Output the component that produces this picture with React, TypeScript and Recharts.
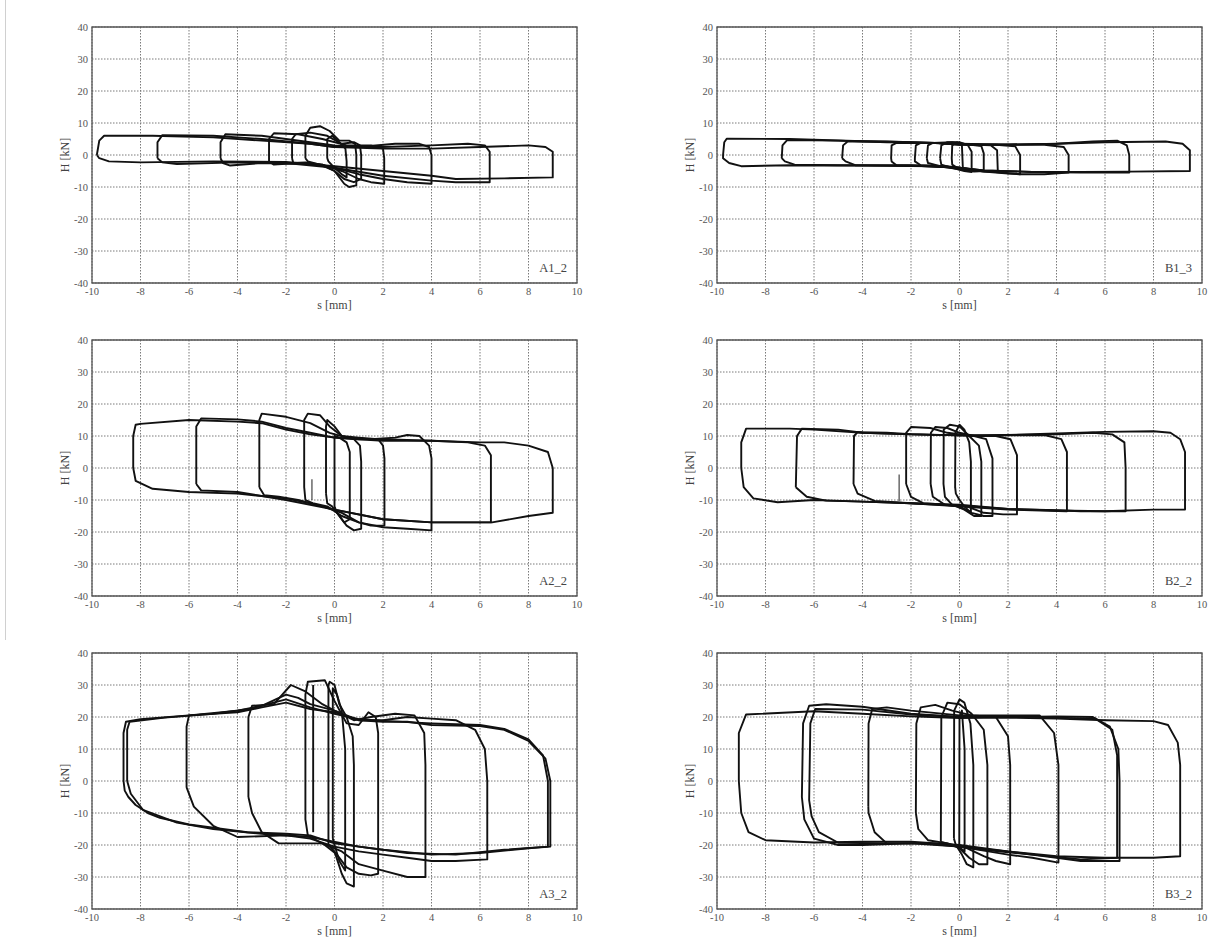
import { LineChart, Line, XAxis, YAxis, CartesianGrid, ReferenceArea } from "recharts";

type Pt = [number, number];

const S_TICKS = [-10, -8, -6, -4, -2, 0, 2, 4, 6, 8, 10];
const H_TICKS = [-40, -30, -20, -10, 0, 10, 20, 30, 40];

// A1_2 cycles, one loop per amplitude (s [mm], H [kN])
const a12Loops: Pt[][] = [
  [[-9.8, 0], [-9.7, 4.5], [-9.5, 6], [-7.5, 6], [-5, 5.5], [-3, 4.5], [-1, 3.5], [0, 2.5], [2, 2], [4, 2], [6, 2.5], [8, 3], [8.7, 2.5], [9, 1], [9, -7], [7, -7.3], [5, -7.5], [4, -6.5], [2, -5], [0, -3.5], [-2, -2.2], [-5, -2], [-8, -2.3], [-9.3, -2], [-9.7, -1]],
  [[-7.3, -1], [-7.3, 4], [-7.1, 6.2], [-5, 6], [-3, 5], [-1, 3.5], [0, 2.5], [2, 2.5], [4, 3], [5.5, 3.5], [6.2, 3], [6.4, 1], [6.4, -8.5], [5, -8.5], [4, -8], [2, -6.5], [0, -4], [-2, -2.5], [-4, -2.3], [-6.5, -2.8], [-7.1, -2.3]],
  [[-4.7, -1], [-4.7, 4], [-4.5, 6.5], [-3, 6], [-2, 5], [-1, 4], [0, 3], [1, 2.5], [2.5, 3.5], [3.5, 3.5], [3.9, 2.5], [4, 0], [4, -9], [3, -8.5], [2, -7.5], [1, -6], [0, -4], [-1, -2.8], [-3, -2.5], [-4.3, -3.3], [-4.6, -2.5]],
  [[-2.7, -1], [-2.7, 5], [-2.5, 6.8], [-1.5, 6.5], [-0.5, 5], [0.5, 3], [1.5, 3], [2, 2], [2.05, -1], [2.05, -9], [1.5, -8.5], [1, -7.5], [0.3, -5], [-0.5, -3], [-1.5, -2.5], [-2.5, -3], [-2.7, -2]],
  [[-1.75, -1], [-1.75, 5], [-1.6, 6.5], [-1, 7], [-0.3, 6], [0.3, 3.5], [0.8, 4], [1.05, 3], [1.1, 0], [1.1, -7.5], [0.8, -8.5], [0.4, -7.5], [0, -5], [-0.5, -3], [-1.2, -2.3], [-1.7, -2.5]],
  [[-1.2, -1], [-1.2, 6], [-1, 8.5], [-0.6, 9], [-0.2, 7.5], [0.2, 4.5], [0.6, 4.5], [0.85, 3.5], [0.9, 0], [0.9, -9.5], [0.6, -10], [0.4, -9], [0, -5], [-0.6, -3], [-1.1, -2]],
  [[-0.3, -1], [-0.3, 5], [-0.1, 6], [0.2, 4], [0.45, 2], [0.5, -2], [0.5, -7], [0.3, -6], [0, -4], [-0.25, -2]],
];

const a22Loops: Pt[][] = [
  [[-8.3, 0], [-8.3, 10], [-8.2, 13.5], [-8, 13.8], [-6, 15], [-4, 14.5], [-3, 14], [-2, 12], [-1, 10.5], [0, 9.5], [1, 9], [2, 8.5], [4, 8.5], [6, 8], [7, 8], [8, 7], [8.8, 5], [9, 0], [9, -14], [8, -15], [6.5, -17], [4, -17], [2, -16], [0, -13], [-1, -11], [-2, -9.5], [-4, -8], [-6, -7.5], [-7.5, -6.5], [-8.2, -4]],
  [[-5.7, -5], [-5.7, 13], [-5.5, 15.5], [-4, 15.2], [-3, 14.5], [-2, 12.5], [-1, 11], [0, 9.5], [1, 9], [2, 9], [4, 8.5], [5.5, 8], [6.2, 7], [6.45, 4], [6.45, -17], [5, -17], [4, -17], [2, -16], [0, -13], [-2, -10], [-4, -7.5], [-5.5, -7]],
  [[-3.1, -6], [-3.1, 15], [-3, 17], [-2, 16], [-1, 14], [-0.2, 11], [0.5, 9.5], [1.5, 9], [2.5, 9.5], [3, 10.3], [3.5, 10], [3.9, 7], [4, 3], [4, -19.5], [3, -19], [2, -18.5], [1, -17], [0.3, -14], [-0.5, -12], [-1.5, -10], [-2.3, -9], [-2.9, -8.5]],
  [[-1.25, -6], [-1.25, 15], [-1.1, 17], [-0.6, 16.5], [-0.2, 13], [0.3, 10], [1, 9.5], [1.8, 9], [2, 7], [2.06, 3], [2.06, -18], [1.5, -18], [1, -17], [0.3, -15], [-0.3, -12], [-0.9, -11], [-1.2, -10]],
  [[-0.35, -8], [-0.35, 13], [-0.3, 15], [0, 13], [0.3, 10], [0.8, 9], [1.05, 7], [1.1, 2], [1.1, -19], [0.8, -19.5], [0.5, -18], [0.2, -15], [-0.1, -12], [-0.3, -11]],
  [[0, -12], [0, 10], [0.2, 9.5], [0.5, 8], [0.63, 5], [0.63, -16], [0.4, -17], [0.1, -14]],
];
const a22Spike: Pt[] = [[-0.93, -3.5], [-0.93, -10]];

const a32Loops: Pt[][] = [
  [[-8.7, 0], [-8.7, 15], [-8.6, 18.5], [-8, 19.3], [-6, 20.5], [-4, 21.5], [-3, 23], [-2, 24.5], [-1, 22.5], [0, 21.5], [1, 19], [2, 18.5], [3, 18.5], [4, 17.5], [6, 17.2], [7, 16], [8, 12.5], [8.7, 7], [8.9, 0], [8.9, -20.5], [8, -21], [6, -22.5], [4, -23], [2, -21.5], [0, -19.5], [-1, -17], [-2, -16.5], [-3.6, -16], [-6, -13.6], [-7.2, -11.5], [-7.7, -10], [-8.2, -7.5], [-8.5, -5], [-8.65, -3]],
  [[-8.55, 0], [-8.55, 16], [-8.45, 18.5], [-7, 19.8], [-5, 21], [-3.5, 22.5], [-2, 25.5], [-1, 23], [0, 21], [1, 19.3], [2, 18.8], [4, 18], [6, 17.5], [7, 16.3], [8, 13], [8.6, 8], [8.8, 0], [8.8, -20.5], [7, -21.5], [5, -23], [3, -22.5], [1, -20.5], [-1, -17.5], [-3, -16.5], [-5, -15], [-6.5, -13], [-7.9, -9], [-8.4, -4]],
  [[-6.1, -2], [-6.1, 17], [-6, 20.5], [-4, 22], [-3, 23.5], [-2, 27], [-1.5, 26], [-1, 24], [0, 22], [1, 19], [2, 19], [3, 20], [4, 19.5], [5, 19], [5.8, 16], [6.2, 10], [6.3, 0], [6.3, -24.5], [5, -25], [4, -25], [3, -24], [2, -23], [1, -22], [0, -20.5], [-1, -18], [-2, -17], [-4, -17.5], [-5, -14], [-5.8, -8]],
  [[-3.55, -5], [-3.55, 20], [-3.4, 23.5], [-2.5, 24], [-1.8, 30], [-1.2, 28], [-0.5, 24], [0, 22], [0.8, 19], [1.5, 20], [2.5, 21], [3.3, 20.5], [3.7, 15], [3.75, 5], [3.75, -30], [3, -30], [2, -28], [1, -26], [0.3, -22], [-0.5, -19.5], [-1.5, -19.5], [-2.3, -19.5], [-3, -16], [-3.4, -10]],
  [[-1.2, -12], [-1.2, 27], [-1.1, 31], [-0.4, 31.5], [0, 25], [0.5, 18], [1, 17.5], [1.4, 21.5], [1.7, 20], [1.8, 15], [1.8, -29], [1.5, -29.5], [1, -29], [0.5, -27], [0.1, -23], [-0.4, -20], [-1.1, -17]],
  [[-0.88, -16], [-0.88, 30]],
  [[-0.25, -20], [-0.25, 30], [-0.2, 31], [0, 30], [0.2, 24], [0.5, 20], [0.75, 14], [0.8, 5], [0.8, -33], [0.5, -32], [0.3, -29], [0, -22]],
  [[-0.07, -18], [-0.07, 29], [0.1, 27], [0.3, 22], [0.44, 10], [0.44, -28], [0.2, -25], [0, -20]],
];

const b13Loops: Pt[][] = [
  [[-9.75, 0], [-9.7, 4], [-9.6, 5.1], [-7, 5], [-4, 4.3], [-2, 4], [0, 3.5], [2, 3.2], [4, 3.5], [6, 4], [8.5, 4.2], [9.2, 3.5], [9.5, 1.5], [9.5, -5], [7, -5.2], [5, -5.3], [3, -5.3], [1, -4.8], [0, -4], [-1, -3.5], [-4, -3.3], [-7, -3.2], [-9, -3.5], [-9.5, -2.5], [-9.75, -1]],
  [[-7.33, -1], [-7.3, 3], [-7.1, 4.7], [-5, 4.5], [-3, 4], [-1, 3.8], [0, 3.2], [2, 3.3], [4, 3.5], [5.5, 4.2], [6.5, 4.5], [6.9, 3], [7, 0], [7, -5.5], [5, -5.5], [3, -5.3], [1, -4.8], [0, -4], [-2, -3.3], [-5, -3.2], [-6.8, -3], [-7.2, -2]],
  [[-4.84, -1], [-4.8, 3], [-4.6, 4.3], [-3, 4.2], [-1, 3.8], [0, 3.3], [2, 3.2], [3.5, 3.2], [4.3, 2.5], [4.5, 0], [4.5, -5.5], [3.5, -6], [2.5, -6], [1, -5], [0, -4], [-2, -3.3], [-4.3, -3.2], [-4.7, -2]],
  [[-2.82, -1], [-2.8, 3], [-2.6, 3.8], [-1, 3.7], [0, 3.3], [1.5, 3.2], [2.3, 2.7], [2.5, 0], [2.5, -6], [2, -5.8], [1, -5.2], [0, -4], [-1.5, -3.3], [-2.6, -3.2], [-2.8, -2]],
  [[-1.84, -1], [-1.8, 3], [-1.6, 3.8], [-0.5, 3.8], [0.5, 3.3], [1.3, 3], [1.55, 1.5], [1.58, -5.2], [1, -5.2], [0.3, -4.5], [-0.5, -3.5], [-1.6, -3.2], [-1.84, -2]],
  [[-1.35, -1], [-1.3, 3], [-1.1, 3.8], [-0.3, 4], [0.4, 3.3], [0.9, 2.8], [1, 0.5], [1, -5], [0.6, -5.2], [0, -4.5], [-0.8, -3.5], [-1.3, -2.5]],
  [[-0.8, -1], [-0.75, 3], [-0.5, 4], [0, 4], [0.35, 3], [0.5, 1], [0.5, -5.3], [0.2, -5], [-0.3, -4], [-0.75, -3]],
  [[-0.32, -1], [-0.3, 3], [-0.1, 4], [0.1, 3], [0.14, -4.5], [-0.1, -4], [-0.3, -3]],
];

const b22Loops: Pt[][] = [
  [[-9, 0], [-9, 8], [-8.8, 12.3], [-7, 12.3], [-6, 12], [-4, 11], [-2, 10.5], [0, 10.2], [1, 10], [2, 10.3], [4, 10.8], [6, 11.3], [8, 11.5], [8.7, 11], [9.1, 9], [9.3, 5], [9.3, -13], [8, -13], [6, -13.5], [4, -13.3], [2, -12.8], [0, -11.5], [-2, -11], [-4, -10.5], [-6, -10], [-7.5, -10.7], [-8.5, -9.5], [-8.9, -6]],
  [[-6.75, -6], [-6.7, 10], [-6.5, 12.3], [-5, 12], [-4, 11], [-2, 10.5], [0, 10.2], [2, 10.3], [4, 10.5], [5.5, 11], [6.3, 10.5], [6.8, 8], [6.85, 0], [6.85, -13.5], [5, -13.5], [4, -13.2], [2, -12.8], [0, -11.8], [-2, -11], [-4, -10.5], [-5.5, -10.2], [-6.3, -9]],
  [[-4.37, -5], [-4.35, 10], [-4.2, 11.2], [-3, 11], [-2, 10.6], [0, 10.2], [2, 10.2], [3.5, 10.3], [4.2, 9], [4.43, 5], [4.43, -13.5], [3, -13.2], [2, -13], [0, -12], [-2, -11], [-3.5, -10.3], [-4.2, -8]],
  [[-2.2, -5], [-2.2, 11], [-2, 12.8], [-1.2, 12.5], [-0.5, 11], [0.5, 10], [1.5, 10], [2.1, 9], [2.37, 4], [2.37, -14.5], [1.8, -14.5], [1, -14], [0.3, -12], [-0.5, -11.5], [-1.5, -11], [-2, -9]],
  [[-1.19, -5], [-1.18, 11], [-1, 12.8], [-0.5, 12.5], [0, 11], [0.6, 10], [1.1, 9], [1.36, 3], [1.36, -15], [1, -15], [0.5, -14], [0, -12], [-0.6, -11.5], [-1.1, -9]],
  [[-0.66, -5], [-0.65, 12], [-0.4, 13.5], [0, 13], [0.4, 10], [0.8, 7], [0.9, 2], [0.9, -15], [0.6, -15], [0.2, -13], [-0.3, -11.5], [-0.6, -9]],
  [[-0.18, -6], [-0.17, 11], [0, 13.5], [0.2, 12], [0.4, 8], [0.47, 2], [0.47, -14], [0.2, -12], [0, -10], [-0.15, -8]],
];
const b22Spike: Pt[] = [[-2.49, -2], [-2.49, -10.3]];

const b32Loops: Pt[][] = [
  [[-9.1, 0], [-9.1, 15], [-8.8, 20.8], [-6, 21.8], [-4, 21], [-2, 20.2], [0, 19.7], [2, 19.8], [4, 19.5], [6, 19], [8, 18.7], [8.6, 17.5], [9, 12], [9.1, 5], [9.1, -23.5], [8, -24], [6, -24], [4, -23.5], [2, -22], [0, -20], [-2, -19], [-4, -19], [-6, -19.2], [-8, -18.5], [-8.7, -16], [-9, -10]],
  [[-6.5, -5], [-6.45, 18], [-6.2, 23.5], [-5.5, 24], [-4, 23.2], [-2, 21], [0, 20], [2, 20], [4, 20.2], [5.5, 20], [6.2, 17], [6.55, 10], [6.6, 0], [6.6, -25], [5, -25], [4, -24], [2, -22], [0, -20.5], [-2, -19.5], [-4, -20], [-5, -20], [-6, -18], [-6.4, -12]],
  [[-6.2, -6], [-6.15, 18], [-5.95, 22.5], [-4, 22.3], [-2, 20.8], [0, 20], [2, 20.3], [4, 19.8], [5.6, 19.5], [6.3, 16], [6.5, 8], [6.5, -24], [5, -24.5], [3, -23], [1, -21.5], [-1, -19.5], [-3, -19.5], [-5, -19.3], [-5.8, -16], [-6.1, -11]],
  [[-3.76, -8], [-3.75, 18], [-3.6, 22.5], [-3, 23], [-2, 22], [0, 20.5], [2, 20.5], [3.3, 20.5], [3.9, 15], [4.08, 5], [4.08, -25.5], [3, -24], [2, -23], [0, -20.5], [-1.5, -19.5], [-3, -19.5], [-3.5, -16], [-3.75, -10]],
  [[-1.8, -10], [-1.78, 18], [-1.6, 23], [-1, 23.8], [-0.3, 22], [0.5, 20.5], [1.5, 20], [2, 14], [2.09, 5], [2.09, -26], [1.5, -25], [1, -23.5], [0.3, -21], [-0.5, -19.5], [-1.3, -18.5], [-1.7, -15]],
  [[-0.77, -19], [-0.75, 20], [-0.5, 24.5], [0, 24], [0.5, 21], [1, 16], [1.15, 5], [1.15, -26], [0.8, -26], [0.4, -24], [0, -21], [-0.5, -19.5]],
  [[-0.23, -18], [-0.22, 22], [0, 25.5], [0.2, 24.5], [0.45, 18], [0.57, 5], [0.57, -27], [0.3, -26], [0.1, -23], [-0.15, -20]],
  [[-0.01, -20], [0, 20], [0.1, 22], [0.21, 10], [0.21, -22], [0.05, -21]],
];

const PANEL_NAMES = ["A1_2", "B1_3", "A2_2", "B2_2", "A3_2", "B3_2"];
const PANEL_LOOPS = [a12Loops, b13Loops, a22Loops, b22Loops, a32Loops, b32Loops];
const PANEL_SPIKES: Pt[][][] = [[], [], [a22Spike], [b22Spike], [], []];

const COL_LEFT = [47, 672];
const ROW_TOP = [22, 335, 648];

const CHART_W = 540;
const CHART_H = 281;
const Y_AXIS_W = 45;
const M_TOP = 5;
const PLOT_W = 485;
const PLOT_H = 256;

const FONT = '"Liberation Serif", "DejaVu Serif", serif';

const closeLoop = (loop: Pt[]) => [...loop, loop[0]].map(([s, H]) => ({ s, H }));
const openPath = (p: Pt[]) => p.map(([s, H]) => ({ s, H }));

const XTick = ({ x, y, payload }: any) => (
  <text x={x} y={y} dy="0.71em" textAnchor="middle" fill="#555" fontSize={10.5} fontFamily={FONT}>
    {payload.value}
  </text>
);

const YTick = ({ x, y, payload }: any) => (
  <text x={x} y={y} dy="0.35em" textAnchor="end" fill="#555" fontSize={10.5} fontFamily={FONT}>
    {payload.value}
  </text>
);

function Panel({ name, loops, spikes, left, top }: { name: string; loops: Pt[][]; spikes: Pt[][]; left: number; top: number }) {
  return (
    <div style={{ position: "absolute", left, top, width: CHART_W, height: CHART_H, fontFamily: FONT }}>
      <LineChart width={CHART_W} height={CHART_H} margin={{ top: M_TOP, right: 10, left: 0, bottom: 0 }}>
        <CartesianGrid stroke="#7a7a7a" strokeDasharray="1.5 1.5" strokeWidth={1} />
        <XAxis
          type="number"
          dataKey="s"
          domain={[-10, 10]}
          ticks={S_TICKS}
          interval={0}
          allowDataOverflow
          height={20}
          tickSize={0}
          tickMargin={5}
          axisLine={false}
          tick={<XTick />}
        />
        <YAxis
          type="number"
          domain={[-40, 40]}
          ticks={H_TICKS}
          interval={0}
          allowDataOverflow
          width={Y_AXIS_W}
          tickSize={0}
          tickMargin={4}
          axisLine={false}
          tick={<YTick />}
        />
        <ReferenceArea x1={-10} x2={10} y1={-40} y2={40} fill="none" fillOpacity={0} stroke="#555" strokeWidth={1.3} />
        {loops.map((l, i) => (
          <Line
            key={`l-${i}`}
            data={l.length > 2 ? closeLoop(l) : openPath(l)}
            dataKey="H"
            type="linear"
            dot={false}
            activeDot={false}
            stroke="#111"
            strokeWidth={1.9}
            strokeLinejoin="round"
            isAnimationActive={false}
          />
        ))}
        {spikes.map((p, i) => (
          <Line
            key={`p-${i}`}
            data={openPath(p)}
            dataKey="H"
            type="linear"
            dot={false}
            activeDot={false}
            stroke="#333"
            strokeWidth={1.1}
            isAnimationActive={false}
          />
        ))}
      </LineChart>
      <div
        style={{
          position: "absolute",
          left: Y_AXIS_W - 27,
          top: M_TOP + PLOT_H / 2,
          transform: "translate(-50%, -50%) rotate(-90deg)",
          fontSize: 12,
          color: "#444",
          whiteSpace: "nowrap",
        }}
      >
        H [kN]
      </div>
      <div
        style={{
          position: "absolute",
          left: Y_AXIS_W + PLOT_W / 2,
          top: M_TOP + PLOT_H + 22,
          transform: "translate(-50%, -50%)",
          fontSize: 12,
          color: "#444",
          whiteSpace: "nowrap",
        }}
      >
        s [mm]
      </div>
      <div
        style={{
          position: "absolute",
          right: CHART_W - (Y_AXIS_W + PLOT_W - 10),
          top: M_TOP + PLOT_H - 15,
          transform: "translateY(-50%)",
          fontSize: 12.5,
          color: "#444",
          whiteSpace: "nowrap",
        }}
      >
        {name}
      </div>
    </div>
  );
}

export default function App() {
  return (
    <div style={{ position: "absolute", left: 0, top: 0, width: 1209, height: 938, background: "#fff", overflow: "hidden" }}>
      <div style={{ position: "absolute", left: 5, top: 0, width: 1, height: 640, background: "#d0d0d0" }} />
      {PANEL_NAMES.map((name, i) => (
        <Panel
          key={name}
          name={name}
          loops={PANEL_LOOPS[i]}
          spikes={PANEL_SPIKES[i]}
          left={COL_LEFT[i % 2]}
          top={ROW_TOP[Math.floor(i / 2)]}
        />
      ))}
    </div>
  );
}
